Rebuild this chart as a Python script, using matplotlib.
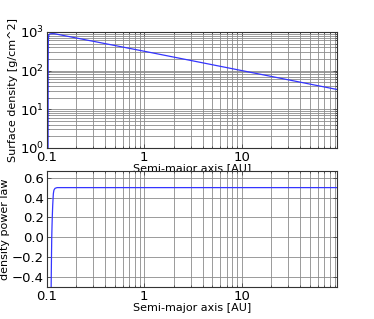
import matplotlib
matplotlib.use("Agg")
import matplotlib.pyplot as plt

# Data
r_sigma = [0.1031, 0.1034, 0.1037, 0.1042, 0.105, 0.107, 0.110, 0.115, 0.12, 1.0, 10.0, 94.0]
sigma = [0.5, 150, 500, 740, 830, 880, 895, 900, 897, 316, 100, 32.6]

r_pow = [0.1107, 0.1112, 0.1118, 0.1125, 0.1133, 0.1141, 0.1151, 0.1161, 0.1169, 0.1185, 0.1217, 0.1276, 1.0, 10.0, 94.0]
pow_law = [-0.6, -0.4, -0.2, 0.0, 0.12, 0.22, 0.32, 0.39, 0.44, 0.475, 0.493, 0.5, 0.5, 0.5, 0.5]

x_ticks = [0.1, 1, 10]
x_tick_labels = ["0.1", "1", "10"]
y_ticks_top = [1, 10, 100, 1000]
y_tick_labels_top = [r"$10^{0}$", r"$10^{1}$", r"$10^{2}$", r"$10^{3}$"]
y_ticks_bot = [-0.4, -0.2, 0.0, 0.2, 0.4, 0.6]

fig = plt.figure(figsize=(3.74, 3.19), dpi=100)
fig.subplots_adjust(left=0.125, right=0.9, top=0.9, bottom=0.1, hspace=0.2)
ax1 = fig.add_subplot(2, 1, 1)
ax2 = fig.add_subplot(2, 1, 2)

grid_kw = dict(color="#8a8a8a", linewidth=0.6, linestyle="-")
fs_label = 8
fs_tick = 9.5
line_color = "#3535ff"

ax1.plot(r_sigma, sigma, color=line_color, linewidth=0.9)
ax1.set_xscale("log")
ax1.set_yscale("log")
ax1.set_xlim(0.1, 94)
ax1.set_ylim(1, 1000)
ax1.set_xticks(x_ticks)
ax1.set_xticklabels(x_tick_labels)
ax1.set_yticks(y_ticks_top)
ax1.set_yticklabels(y_tick_labels_top)
ax1.grid(True, which="both", **grid_kw)
ax1.set_xlabel("Semi-major axis [AU]", fontsize=fs_label, labelpad=0)
ax1.set_ylabel("Surface density [g/cm^2]", fontsize=fs_label, labelpad=1)

ax2.plot(r_pow, pow_law, color=line_color, linewidth=0.9)
ax2.set_xscale("log")
ax2.set_xlim(0.1, 94)
ax2.set_ylim(-0.5, 0.666)
ax2.set_xticks(x_ticks)
ax2.set_xticklabels(x_tick_labels)
ax2.set_yticks(y_ticks_bot)
ax2.set_yticklabels([f"{v:.1f}".replace("-", "\u2212") for v in y_ticks_bot])
ax2.grid(True, which="both", axis="x", **grid_kw)
ax2.grid(True, which="major", axis="y", **grid_kw)
ax2.set_xlabel("Semi-major axis [AU]", fontsize=fs_label, labelpad=0)
ax2.set_ylabel("density power law", fontsize=fs_label, labelpad=1)

for ax in (ax1, ax2):
    ax.set_axisbelow(True)
    ax.tick_params(which="both", direction="in", top=True, right=True,
                   labelsize=fs_tick, pad=2, color="#333333")
    ax.tick_params(which="major", length=3, width=0.5)
    ax.tick_params(which="minor", length=1.5, width=0.5)
    for s in ax.spines.values():
        s.set_color("#333333")
        s.set_linewidth(0.8)

fig.savefig("out.png", dpi=100)
